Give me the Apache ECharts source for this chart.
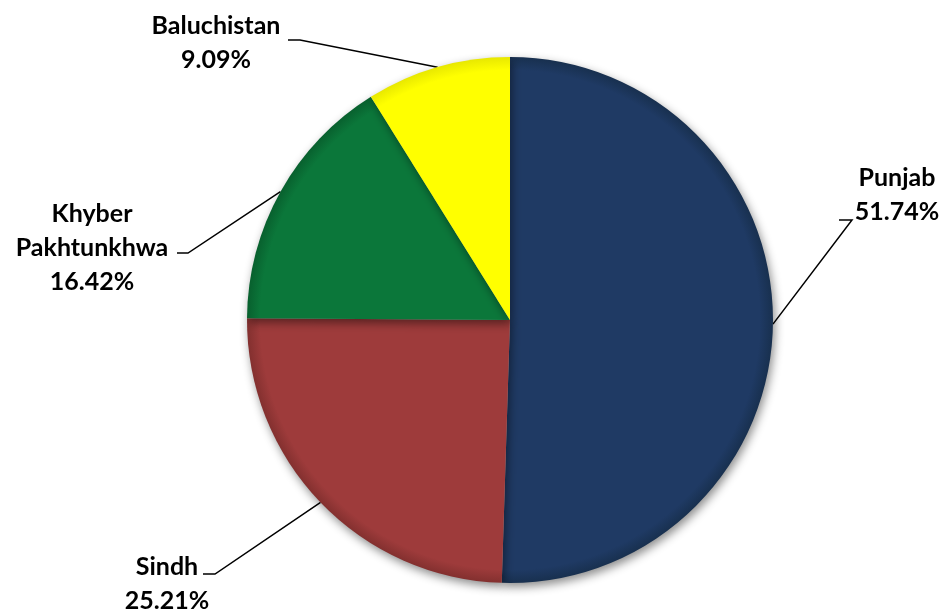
<!DOCTYPE html>
<html>
<head>
<meta charset="utf-8">
<title>Provincial share</title>
<script src="https://cdn.jsdelivr.net/npm/echarts@6/dist/echarts.min.js"></script>
<style>
  html, body { margin: 0; padding: 0; background: #ffffff; }
  #chart { width: 941px; height: 609px; }
</style>
</head>
<body>
<div id="chart"></div>
<script>
// Provinces and their shares (%)
const provinces = ['Punjab', 'Sindh', 'Khyber\nPakhtunkhwa', 'Baluchistan'];
const shares = [51.74, 25.21, 16.42, 9.09];
const sliceColors = ['#1F3A64', '#9E3B3B', '#0B773A', '#FFFF00'];
const rimColors = ['#18304F', '#83302F', '#08602E', '#E8E800'];

// Where each label block sits and where its leader line bends
const labelSpots = [
  { x: 897, y: 195, elbow: [852, 220], end: [839, 220] },
  { x: 167, y: 584, elbow: [215, 574], end: [203, 574] },
  { x: 92,  y: 248, elbow: [188, 253], end: [177, 253] },
  { x: 216, y: 43,  elbow: [300, 40],  end: [288, 40] }
];

const CX = 510, CY = 320, R = 263;

const chart = echarts.init(document.getElementById('chart'));

// Each slice gets a soft darker rim, like a rounded bevel
const data = provinces.map((name, i) => ({
  name: name,
  value: shares[i],
  itemStyle: {
    color: {
      type: 'radial', x: CX, y: CY, r: R, global: true,
      colorStops: [
        { offset: 0, color: sliceColors[i] },
        { offset: 0.95, color: sliceColors[i] },
        { offset: 1, color: rimColors[i] }
      ]
    }
  }
}));

chart.setOption({
  animation: false,
  backgroundColor: '#ffffff',
  series: [{
    type: 'pie',
    center: [CX, CY],
    radius: R,
    startAngle: 90,
    clockwise: true,
    data: data,
    itemStyle: {
      borderWidth: 0,
      shadowColor: 'rgba(0,0,0,0.45)',
      shadowBlur: 10,
      shadowOffsetX: 2,
      shadowOffsetY: 4
    },
    label: {
      show: true,
      position: 'outside',
      formatter: p => p.name + '\n' + p.value.toFixed(2) + '%',
      fontFamily: 'Lato',
      fontWeight: 'bold',
      fontSize: 25,
      lineHeight: 34,
      color: '#000000',
      align: 'center'
    },
    labelLine: {
      show: true,
      lineStyle: { color: '#000000', width: 1.5 }
    },
    labelLayout: function (params) {
      const s = labelSpots[params.dataIndex];
      const start = params.labelLinePoints[0];
      return {
        x: s.x,
        y: s.y,
        align: 'center',
        verticalAlign: 'middle',
        labelLinePoints: [start, s.elbow, s.end]
      };
    }
  }]
});
</script>
</body>
</html>
